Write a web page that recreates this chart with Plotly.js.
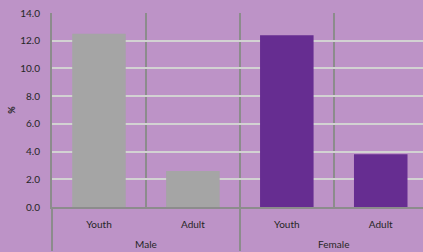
<!DOCTYPE html>
<html>
<head>
<meta charset="utf-8">
<script src="https://cdn.plot.ly/plotly-3.0.1.min.js"></script>
<style>html,body{margin:0;padding:0;background:#bd93c7;}#chart{width:423px;height:252px;}</style>
</head>
<body>
<div id="chart"></div>
<script>
const genders = ['Male', 'Female'];
const ageGroups = ['Youth', 'Adult'];
const maleValues = [12.5, 2.6];
const femaleValues = [12.4, 3.8];
const yTicks = [0, 2, 4, 6, 8, 10, 12, 14];

// the group label is set one line lower, as in the reference
const groupLabel = g => '<br>' + g;

const traces = [
  {
    type: 'bar',
    x: [ageGroups.map(() => groupLabel(genders[0])), ageGroups],
    y: maleValues,
    marker: {color: '#a5a5a5'},
    width: 0.57,
    hoverinfo: 'none'
  },
  {
    type: 'bar',
    x: [ageGroups.map(() => groupLabel(genders[1])), ageGroups],
    y: femaleValues,
    marker: {color: '#662d91'},
    width: 0.57,
    hoverinfo: 'none'
  }
];

const layout = {
  width: 423, height: 252,
  margin: {l: 52, r: 0, t: 13, b: 45},
  paper_bgcolor: '#bd93c7',
  plot_bgcolor: '#bd93c7',
  showlegend: false,
  barmode: 'overlay',
  font: {family: 'Lato, Open Sans, sans-serif', size: 10, color: '#262626'},
  xaxis: {
    type: 'multicategory',
    range: [-0.5, 3.45],
    showgrid: true,
    gridcolor: '#8c8c8c',
    gridwidth: 1.5,
    tickson: 'boundaries',
    ticks: '',
    showline: true,
    linecolor: '#8c8c8c',
    linewidth: 2,
    showdividers: true,
    dividercolor: '#8c8c8c',
    dividerwidth: 1.5,
    ticklabelstandoff: 7,
    tickfont: {size: 10}
  },
  yaxis: {
    range: [0, 14],
    tickvals: yTicks,
    tickformat: '.1f',
    showgrid: true,
    gridcolor: '#d2d2d2',
    gridwidth: 2,
    zeroline: false,
    showline: true,
    linecolor: '#8c8c8c',
    linewidth: 2,
    ticks: '',
    ticklen: 0,
    ticklabelstandoff: 8,
    tickfont: {size: 10},
    title: {text: '<b>%</b>', standoff: 3, font: {size: 9}}
  }
};

Plotly.newPlot('chart', traces, layout, {displayModeBar: false, staticPlot: true});
</script>
</body>
</html>
